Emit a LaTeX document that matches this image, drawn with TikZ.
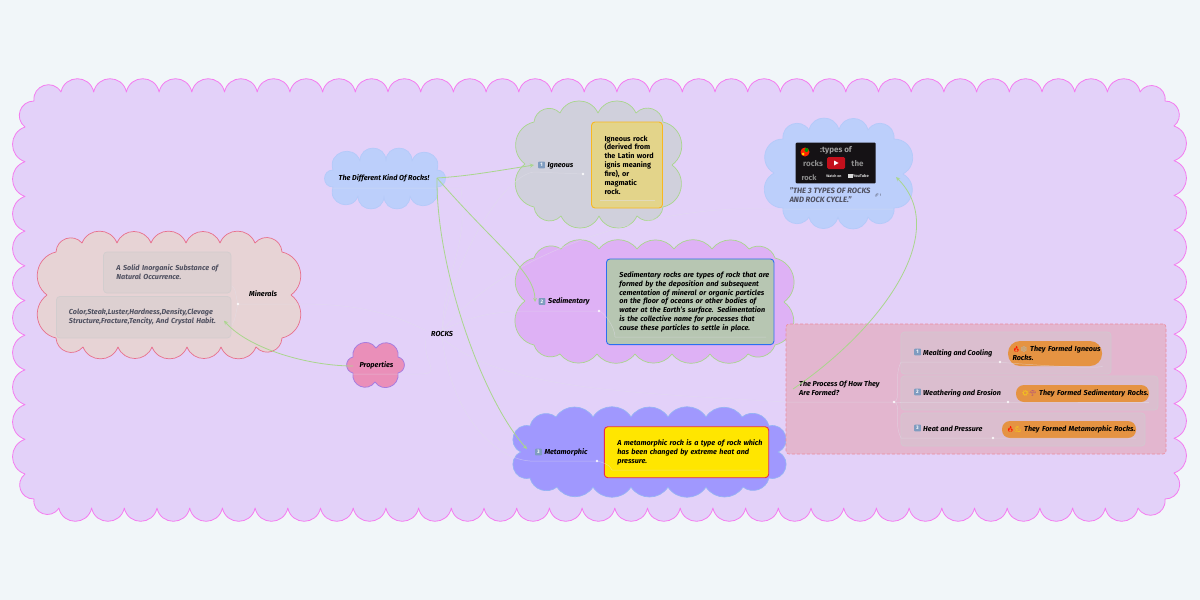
\documentclass[tikz,border=0pt]{standalone}
\usepackage{fontspec}
\setmainfont{Fira Sans}
\newfontfamily\emojifont{Noto Emoji}
\definecolor{pagebg}{HTML}{F1F6F9}
\definecolor{outerfill}{HTML}{E3D1F9}
\definecolor{outerline}{HTML}{F47CF0}
\definecolor{greenline}{HTML}{A9D68C}
\definecolor{faintline}{HTML}{E2E0EA}
\definecolor{greytext}{HTML}{4F5060}
\definecolor{pillfill}{HTML}{E59342}
\definecolor{minfill}{HTML}{E7D3D5}
\definecolor{minline}{HTML}{E8708C}
\definecolor{bluefill}{HTML}{BCCFFB}
\definecolor{blueline}{HTML}{B4CAF9}
\definecolor{propfill}{HTML}{EA8FB9}
\definecolor{propline}{HTML}{A77DE0}
\definecolor{igfill}{HTML}{D0D0DC}
\definecolor{sedfill}{HTML}{DEB1F5}
\definecolor{metafill}{HTML}{A098FE}
\definecolor{metaline}{HTML}{96B4F4}
\definecolor{panelline}{HTML}{EE8A9C}
\definecolor{panelfill}{HTML}{E3B6CF}
\definecolor{rowgrey}{HTML}{D3C8D0}
\definecolor{boxgrey}{HTML}{D2CDCE}
\definecolor{igboxline}{HTML}{F9B81F}
\definecolor{igboxfill}{HTML}{E3D48A}
\definecolor{sedboxline}{HTML}{2A6FF0}
\definecolor{sedboxfill}{HTML}{B7C6B2}
\definecolor{metaboxline}{HTML}{E8304A}
\definecolor{metaboxfill}{HTML}{FFE600}
\definecolor{thumbfill}{HTML}{151215}
\definecolor{playred}{HTML}{C4101C}
\definecolor{keyblue}{HTML}{7F9CC0}
\tikzset{
	bump/.style={bend left=68,looseness=1.25},
	sidebump/.style={bend left=65,looseness=1.2},
	lbl/.style={anchor=west,inner xsep=5pt,inner ysep=0pt,text height=5.6pt,text depth=1.6pt,font=\fontsize{7.25}{8.8}\selectfont\bfseries\itshape,align=left},
	descbox/.style={draw,line width=.9pt,rounded corners=3.5pt,inner xsep=13pt,inner ysep=0pt,align=left,font=\fontsize{7.25}{8.8}\selectfont\bfseries\itshape},
	greybox/.style={draw=#1,fill=#1,fill opacity=.45,text opacity=1,line width=.7pt,rounded corners=3.5pt},
	pill/.style={fill=pillfill,inner xsep=4.5pt,inner ysep=0pt,align=left,font=\fontsize{7.25}{8.9}\selectfont\bfseries\itshape},
	keycap/.style={fill=keyblue,rounded corners=.8pt,minimum size=6.8pt,inner sep=0pt,text=white,font=\fontsize{5}{5}\selectfont\bfseries},
	faint/.style={draw=faintline,line width=.5pt,opacity=.5},
	link/.style={draw=greenline,line width=.8pt,->,>=stealth},
}
\newcommand{\emo}[2]{{\emojifont\fontsize{6}{6}\selectfont\textcolor{#1}{\symbol{#2}}}}
\newcommand{\nb}[1]{\mbox{#1}}
% style, corners x0 y0 x1 y1, valleys on top, valleys on the right
\newcommand{\cloud}[7]{%
	\ifx\relax#7\relax
		\def\sideR{to[bump] (#4,#5)}\def\sideL{to[bump] (#2,#3)}
	\else
		\def\sideR{\foreach \vy in {#7} {to[sidebump] (#4+9,\vy)} to[sidebump] (#4,#5)}
		\def\sideL{\foreach \vy in {#7} {to[sidebump] ({#2-9},{#3+#5-\vy})} to[sidebump] (#2,#3)}
	\fi
	\draw[#1] (#2,#3) \foreach \vx in {#6} {to[bump] (\vx,#3-9)} to[bump] (#4,#3) \sideR
	\foreach \vx in {#6} {to[bump] ({#2+#4-\vx},#5+9)} to[bump] (#2,#5) \sideL -- cycle;}
\begin{document}
\begin{tikzpicture}[x=1pt,y=-1pt,line join=round]
	\fill[pagebg] (0,0) rectangle (1200,600);
	\useasboundingbox (0,0) rectangle (1200,600);

	% boundary
	\cloud{fill=outerfill,draw=outerline,line width=.8pt,bump/.style={bend left=78,looseness=1.42},sidebump/.style={bend left=71,looseness=1.3}}{34}{101}{1165}{499}{61,93.7,...,1141}{126,160.7,...,474}

	% clouds
	\cloud{fill=minfill,draw=minline,line width=.7pt}{56}{252}{282}{338}{82,117,151,186,220,255}{295}
	\cloud{fill=bluefill,draw=blueline,line width=.7pt,bump/.style={bend left=90,looseness=1.7}}{333}{170}{437}{187}{360,386,412}{}
	\cloud{fill=propfill,draw=propline,line width=.8pt,bump/.style={bend left=77,looseness=1.4}}{353}{357}{398}{373}{376}{}
	\cloud{fill=igfill,draw=greenline,line width=.7pt,bump/.style={bend left=65,looseness=1.2}}{534}{122}{663}{207}{560,598,636}{165}
	\cloud{fill=sedfill,draw=greenline,line width=.7pt,bump/.style={bend left=53,looseness=1.05}}{534}{258}{775}{345}{561,599,637,674,712,749}{302}
	\cloud{fill=metafill,draw=metaline,line width=.7pt,bump/.style={bend left=57,looseness=1.1},sidebump/.style={bend left=85,looseness=1.55}}{530}{426}{769}{478}{556,593,631,668,706,742}{452}
	\cloud{fill=bluefill,draw=blueline,line width=.7pt,bump/.style={bend left=77,looseness=1.4},sidebump/.style={bend left=75,looseness=1.37}}{783}{139}{894}{208}{809,839,868}{174}

	% process panel
	\node[draw=panelline,fill=panelfill,densely dashed,line width=.6pt,rounded corners=3pt,minimum width=380pt,minimum height=130pt,inner sep=0pt] (panel) at (976,389) {};
	\node[greybox=rowgrey,minimum width=210pt,minimum height=42pt,inner sep=0pt] (rowa) at (1006,353) {};
	\node[greybox=rowgrey,minimum width=257pt,minimum height=34pt,inner sep=0pt] (rowb) at (1029.5,393) {};
	\node[greybox=rowgrey,minimum width=244pt,minimum height=33pt,inner sep=0pt] (rowc) at (1023,429.5) {};

	% text boxes
	\node[greybox=boxgrey,text=greytext,minimum width=127.5pt,minimum height=41pt,inner xsep=13pt,inner ysep=0pt,align=left,font=\fontsize{7.25}{8.8}\selectfont\bfseries\itshape,text width=101.5pt] (solid) at (167.2,272.5) {\nb{A Solid Inorganic Substance of}\\\nb{Natural Occurrence.}};
	\node[greybox=boxgrey,text=greytext,minimum width=174.5pt,minimum height=41.5pt,inner xsep=12.5pt,inner ysep=0pt,align=left,font=\fontsize{7.25}{8.8}\selectfont\bfseries\itshape,text width=149.5pt] (color) at (143.7,317.2) {\nb{Color,Steak,Luster,Hardness,Density,Clevage}\\\nb{Structure,Fracture,Tencity, And Crystal Habit.}};
	\node[descbox,draw=igboxline,fill=igboxfill,minimum width=71pt,minimum height=86pt,text width=45pt,font=\fontsize{7.25}{8.85}\selectfont\bfseries] (igdesc) at (627,165) {\nb{Igneous rock}\\\nb{(derived from}\\\nb{the Latin word}\\\nb{ignis meaning}\\\nb{fire), or}\\\nb{magmatic}\\\nb{rock.}};
	\node[descbox,draw=sedboxline,fill=sedboxfill,minimum width=167.5pt,minimum height=85.7pt,text width=141.5pt] (seddesc) at (690.2,301.8) {\nb{Sedimentary rocks are types of rock that are}\\\nb{formed by the deposition and subsequent}\\\nb{cementation of mineral or organic particles}\\\nb{on the floor of oceans or other bodies of}\\\nb{water at the Earth's surface. Sedimentation}\\\nb{is the collective name for processes that}\\\nb{cause these particles to settle in place.}};
	\node[descbox,draw=metaboxline,fill=metaboxfill,minimum width=164.4pt,minimum height=51pt,text width=138.4pt] (metadesc) at (686.5,452.2) {\nb{A metamorphic rock is a type of rock which}\\\nb{has been changed by extreme heat and}\\\nb{pressure.}};

	% video
	\node[fill=thumbfill,rounded corners=1pt,minimum width=80pt,minimum height=40.6pt,inner sep=0pt] (thumb) at (835.7,163) {};
	\fill[red!70!orange] (805,152) circle (4.5pt);
	\fill[green!60!black] (806.5,150) circle (2pt);
	\fill[yellow!80!orange] (803,154) circle (1.5pt);
	\node[inner sep=0pt,text=white!62!black,font=\fontsize{8}{8}\selectfont\bfseries] (vtitle) at (836,150.5) {:types of};
	\node[inner sep=0pt,text=white!55!black,font=\fontsize{8}{8}\selectfont\bfseries] (vrocks) at (813,163.5) {rocks};
	\node[inner sep=0pt,text=white!55!black,font=\fontsize{8}{8}\selectfont\bfseries] (vthe) at (857.5,163.5) {the};
	\node[inner sep=0pt,text=white!55!black,font=\fontsize{7.5}{7.5}\selectfont\bfseries] (vrock) at (809,177.5) {rock};
	\node[fill=playred,rounded corners=1.5pt,minimum width=18pt,minimum height=12pt,inner sep=0pt] (vplay) at (836,163) {};
	\fill[white] (834,160.5) -- (834,165.5) -- (838.5,163) -- cycle;
	\node[inner sep=0pt,text=white!85!black,font=\fontsize{3.6}{4}\selectfont\bfseries] (vwatch) at (834,176) {Watch on};
	\node[fill=white!85!black,minimum width=5pt,minimum height=4pt,inner sep=0pt] (vbadge) at (850,176) {};
	\node[inner sep=0pt,text=white!85!black,font=\fontsize{4}{4}\selectfont\bfseries] (vtube) at (861,176) {YouTube};
	\node[lbl,text=greytext,text height=6pt,font=\fontsize{7.7}{8.8}\selectfont\bfseries\itshape] (caption) at (784.3,200.5) {"THE 3 TYPES OF ROCKS\\AND ROCK CYCLE."};
	\node[inner sep=0pt,text=greytext,font=\fontsize{3.5}{4}\selectfont] (vlink) at (878,195.5) {{\emojifont\symbol{"1F517}} 1};

	% labels
	\node[lbl] (rocks) at (426,334.3) {ROCKS};
	\node[lbl] (minerals) at (244,294.3) {Minerals};
	\node[lbl] (properties) at (354.3,365.7) {Properties};
	\node[lbl] (kinds) at (333.5,178.3) {The Different Kind Of Rocks!};
	\node[keycap] (igkey) at (541.5,165) {1};
	\node[lbl] (igneous) at (542.3,165.7) {Igneous};
	\node[keycap] (sedkey) at (542,301.5) {2};
	\node[lbl] (sedimentary) at (543,301.7) {Sedimentary};
	\node[keycap] (metakey) at (538.5,452) {3};
	\node[lbl] (metamorphic) at (539.3,452.7) {Metamorphic};
	\node[lbl,text height=5.6pt] (process) at (794,393.5) {The Process Of How They\\Are Formed?};
	\node[keycap] (rakey) at (917.5,352) {1};
	\node[lbl] (melting) at (918,353.7) {Mealting and Cooling};
	\node[keycap] (rbkey) at (917.5,392) {2};
	\node[lbl] (weather) at (918,393.3) {Weathering and Erosion};
	\node[keycap] (rckey) at (917.5,428) {3};
	\node[lbl] (heat) at (918,429.3) {Heat and Pressure};

	% formed pills
	\node[pill,rounded corners=12pt,minimum height=25pt,text width=85pt] (forma) at (1055,353.5) {\nb{\emo{red!85!orange}{"1F525}\emo{cyan!40!gray!60}{"2744} They Formed Igneous}\\\nb{Rocks.}};
	\node[pill,rounded corners=8pt,inner xsep=5.5pt,minimum height=17pt,text width=122pt] (formb) at (1082.5,393.5) {\nb{\emo{yellow!90!orange}{"2600}\emo{violet!80}{"2602} They Formed Sedimentary Rocks.}};
	\node[pill,rounded corners=8pt,minimum height=17pt,text width=125pt] (formc) at (1069,429.5) {\nb{\emo{red!85!orange}{"1F525}\emo{yellow!90!orange}{"1F4AA} They Formed Metamorphic Rocks.}};

	% dots and free ends
	\coordinate (solidin) at (232,286);
	\coordinate (colorin) at (232,325);
	\coordinate (minout) at (300,304);
	\coordinate (kindsa) at (325,188);
	\coordinate (kindsb) at (461,188);
	\coordinate (propa) at (345,374);
	\coordinate (propb) at (419,374);
	\coordinate (iga) at (534,172);
	\coordinate (sedin) at (534,311);
	\coordinate (metain) at (530,461);
	\coordinate (viddeep) at (763,209);
	\coordinate (vidend) at (893,209);
	\coordinate (procin) at (786,402);
	\coordinate (seda) at (615,337);
	\coordinate (sedb) at (766,337);
	\coordinate (metaa) at (612,470);
	\coordinate (metab) at (760,470);
	\coordinate (iga2) at (600,200);
	\coordinate (igb2) at (655,200);
	\coordinate (rowain) at (901,362);
	\coordinate (rowbin) at (901,402);
	\coordinate (rowcin) at (901,438);
	\coordinate (rowaend) at (1103,366);
	\coordinate (rowbend) at (1149,402);
	\coordinate (rowcend) at (1136,438);
	\coordinate (dotmin) at (238,304);
	\coordinate (dotig) at (583,174);
	\coordinate (dotsed) at (599,311);
	\coordinate (dotmeta) at (597,461);
	\coordinate (dotproc) at (894,402);
	\coordinate (dota) at (1000,362);
	\coordinate (dotb) at (1008,402);
	\coordinate (dotc) at (993,438);

	% faint branches
	\draw[faint] (rocks.north west) ..controls +(-40,-20) and +(50,0).. (minout) -- (dotmin);
	\draw[faint] (solidin) ..controls +(4,2) and +(-2,-6).. (dotmin) ..controls +(-2,6) and +(4,-6).. (colorin);
	\draw[faint] (rocks.north) ..controls +(2,-60) and +(8,60).. (kindsb) -- (kindsa);
	\draw[faint] (rocks.south west) ..controls +(-4,25) and +(25,0).. (propb) -- (propa);
	\draw[faint] (rocks.north) ..controls +(10,-70) and +(-30,3).. (iga) -- (dotig);
	\draw[faint] (iga2) -- (igb2);
	\draw[faint] (rocks.north) ..controls +(30,-15) and +(-40,0).. (sedin) -- (dotsed) ..controls +(5,1) and +(0,-10).. (seda) -- (sedb);
	\draw[faint] (rocks.north) ..controls +(67,-83) and +(-102,-4).. (viddeep) -- (vidend);
	\draw[faint] (rocks.south) ..controls +(60,50) and +(-170,-10).. (procin) -- (dotproc);
	\draw[faint] (rocks.south) ..controls +(8,70) and +(-40,-3).. (metain) -- (dotmeta) ..controls +(4,1) and +(-2,-6).. (metaa) -- (metab);
	\draw[faint] (dotproc) ..controls +(7,0) and +(-8,0).. (rowbin);
	\draw[faint] (dotproc) ..controls +(8,-2) and +(-8,16).. (rowain) -- (dota) ..controls +(3,1) and +(-3,4).. (rowaend);
	\draw[faint] (dotproc) ..controls +(8,2) and +(-8,-16).. (rowcin) -- (dotc) -- (rowcend);
	\draw[faint] (rowbin) -- (dotb) -- (rowbend);
	\foreach \p in {dotmin,dotig,dotsed,dotmeta,dotproc,dota,dotb,dotc}
		\fill[white,opacity=.85] (\p) circle (1.3pt);

	% green links
	\coordinate (kindsout) at (437,178);
	\coordinate (sedtip) at (535,302);
	\coordinate (metatip) at (527,449);
	\coordinate (igtip) at (534,165);
	\coordinate (colortip) at (224,320.7);
	\coordinate (videotip) at (896,177);
	\coordinate (procout) at (793,389);
	\coordinate (propout) at (353,366);
	\draw[link] (kindsout) ..controls +(30,-2) and +(-50,8).. (igtip);
	\draw[link] (kindsout) ..controls +(60,69) and +(0,-30).. (sedtip);
	\draw[link] (kindsout) ..controls +(-1,90) and +(-45,-50).. (metatip);
	\draw[link] (propout) ..controls +(-43,0) and +(26,29).. (colortip);
	\draw[link] (procout) ..controls +(87,-59) and +(56,56).. (videotip);
\end{tikzpicture}
\end{document}
